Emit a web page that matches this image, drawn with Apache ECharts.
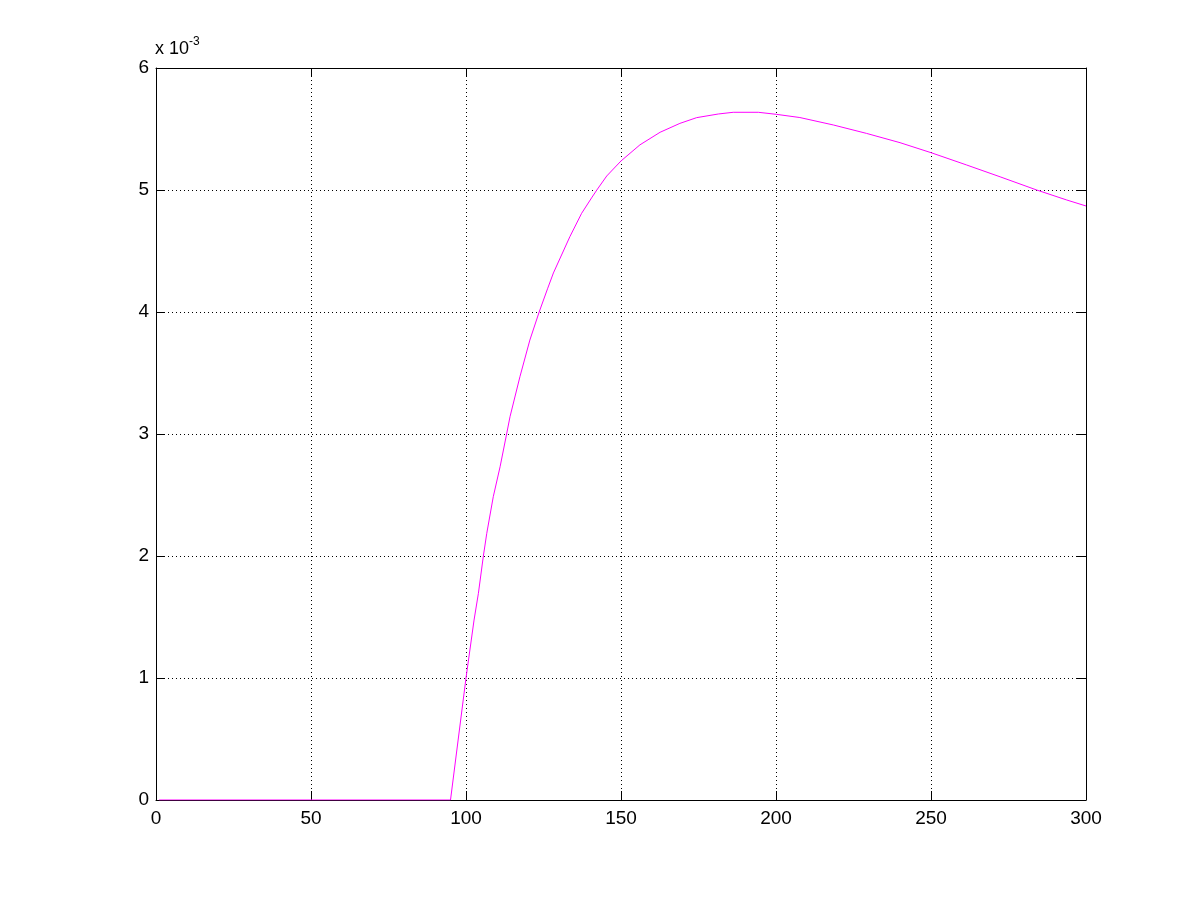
<!DOCTYPE html>
<html>
<head>
<meta charset="utf-8">
<script src="https://cdn.jsdelivr.net/npm/echarts@6/dist/echarts.min.js"></script>
<style>
html,body{margin:0;padding:0;background:#fff;}
#chart{width:1200px;height:900px;}
</style>
</head>
<body>
<div id="chart"></div>
<script>
// Data (y in units of 1e-3)
var xValues = [1, 95, 100, 102.6, 104, 105.6, 106.7, 108.8, 111, 113.1, 114.2, 117.4, 120.6, 123.6, 126.3, 128.2, 133.5, 137.3, 140.5, 142.2, 145.4, 150, 156.1, 162.6, 169, 174.4, 181.4, 186.2, 194.3, 200.2, 207.7, 218.5, 229.2, 240, 250, 261.5, 272.3, 284.1, 293.8, 300];
var yValues = [0, 0, 1.0, 1.475, 1.694, 2.0, 2.186, 2.486, 2.732, 3.0, 3.142, 3.47, 3.77, 4.0, 4.19, 4.32, 4.617, 4.809, 4.935, 5.0, 5.115, 5.238, 5.37, 5.473, 5.546, 5.593, 5.623, 5.637, 5.637, 5.62, 5.594, 5.533, 5.464, 5.388, 5.306, 5.205, 5.108, 5.0, 4.918, 4.869];
var xTicks = [0, 50, 100, 150, 200, 250, 300];
var yTicks = [0, 1, 2, 3, 4, 5, 6];
var exponentLabel = 'x 10';
var exponentSup = '-3';

var points = xValues.map(function (x, i) { return [x, yValues[i]]; });
var font = 'Arial, "Liberation Sans", Helvetica, sans-serif';

var chart = echarts.init(document.getElementById('chart'), null, {renderer: 'canvas'});
var gridLine = {show: true, lineStyle: {color: '#000', width: 1, type: [1, 3]}};
var axisLine = {show: true, onZero: false, lineStyle: {color: '#000', width: 1}};
var tick = {show: true, inside: true, length: 9, lineStyle: {color: '#000', width: 1}};

chart.setOption({
  animation: false,
  backgroundColor: '#fff',
  grid: {left: 156, right: 114, top: 68, bottom: 100, containLabel: false},
  xAxis: [{
    type: 'value', min: xTicks[0], max: xTicks[xTicks.length - 1], interval: 50,
    position: 'bottom',
    axisLine: axisLine, axisTick: tick, splitLine: gridLine,
    axisLabel: {show: true, color: '#000', fontSize: 19, fontFamily: font, margin: 9}
  }, {
    type: 'value', min: xTicks[0], max: xTicks[xTicks.length - 1], interval: 50,
    position: 'top',
    axisLine: axisLine, axisTick: tick, splitLine: {show: false},
    axisLabel: {show: false}
  }],
  yAxis: [{
    type: 'value', min: yTicks[0], max: yTicks[yTicks.length - 1], interval: 1,
    position: 'left',
    axisLine: axisLine, axisTick: tick, splitLine: gridLine,
    axisLabel: {show: true, color: '#000', fontSize: 19, fontFamily: font, margin: 7}
  }, {
    type: 'value', min: yTicks[0], max: yTicks[yTicks.length - 1], interval: 1,
    position: 'right',
    axisLine: axisLine, axisTick: tick, splitLine: {show: false},
    axisLabel: {show: false}
  }],
  graphic: [{
    type: 'text', left: 155, top: 36,
    style: {
      text: '{a|' + exponentLabel + '}{b|' + exponentSup + '}',
      rich: {
        a: {fontSize: 18, fontFamily: font, fill: '#000', verticalAlign: 'bottom', lineHeight: 22},
        b: {fontSize: 12, fontFamily: font, fill: '#000', verticalAlign: 'top', lineHeight: 22, padding: [0, 0, 10, 0]}
      }
    }
  }],
  series: [{
    type: 'line', xAxisIndex: 0, yAxisIndex: 0,
    data: points, showSymbol: false, smooth: false,
    lineStyle: {color: '#FF00FF', width: 1},
    z: 5
  }]
});
</script>
</body>
</html>
